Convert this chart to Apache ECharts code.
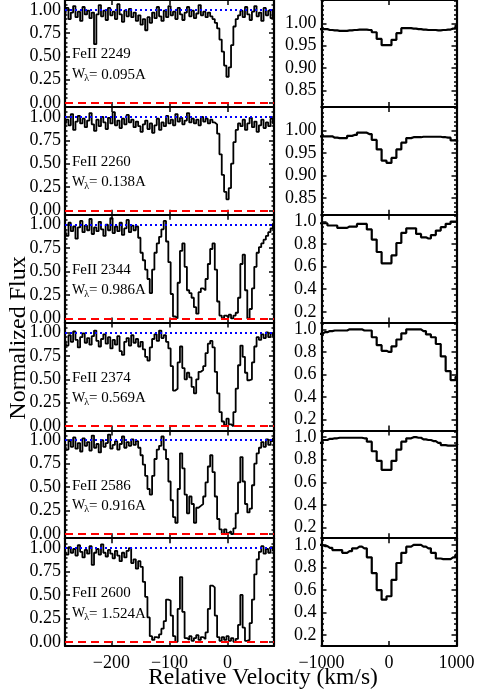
<!DOCTYPE html>
<html><head><meta charset="utf-8">
<script src="https://cdn.jsdelivr.net/npm/echarts@6/dist/echarts.min.js"></script>
<style>html,body{margin:0;padding:0;background:#fff}#c{width:485px;height:695px}</style>
</head><body><div id="c"></div>
<script>
// ---- data ----
const velocity = [-280,-276,-272,-268,-264,-260,-256,-252,-248,-244,-240,-236,-232,-228,-224,-220,-216,-212,-208,-204,-200,-196,-192,-188,-184,-180,-176,-172,-168,-164,-160,-156,-152,-148,-144,-140,-136,-132,-128,-124,-120,-116,-112,-108,-104,-100,-96,-92,-88,-84,-80,-76,-72,-68,-64,-60,-56,-52,-48,-44,-40,-36,-32,-28,-24,-20,-16,-12,-8,-4,0,4,8,12,16,20,24,28,32,36,40,44,48,52,56,60,64,68,72,76,80];

const fe2249 = [0.93,1.02,0.90,0.97,1.04,0.92,0.98,0.88,1.03,0.95,
0.99,0.91,0.97,0.63,0.95,1.05,0.93,0.99,0.89,1.02,
0.94,0.98,0.90,1.06,0.95,0.87,0.99,0.93,1.01,0.92,
0.97,0.88,0.94,0.84,0.90,0.78,0.92,0.86,0.97,0.91,
1.03,0.93,0.88,0.99,0.92,1.04,0.94,0.98,0.90,1.02,
0.95,0.89,0.97,1.03,0.93,0.99,0.91,0.96,1.05,0.94,
0.98,0.92,0.97,0.93,0.90,0.86,0.80,0.68,0.55,0.40,
0.28,0.38,0.62,0.82,0.90,0.94,0.99,0.92,1.03,0.95,
0.89,0.98,1.04,0.93,0.97,0.88,1.02,0.94,0.99,0.91,1.00];

const fe2260 = [0.88,0.97,0.91,1.03,0.86,0.95,1.01,0.93,0.98,0.89,
0.96,1.04,0.92,0.85,0.97,0.90,1.00,0.94,0.87,0.99,
0.93,1.05,0.91,0.96,0.88,0.98,0.92,1.02,0.94,0.97,
0.89,0.95,0.90,0.84,0.92,0.96,0.87,0.93,0.83,0.91,
0.98,0.86,0.94,0.90,1.01,0.93,0.97,0.91,1.03,0.95,
0.99,0.92,0.96,1.04,0.94,0.98,0.93,0.97,0.91,1.00,
0.95,0.98,0.93,0.97,0.94,0.92,0.82,0.60,0.38,0.20,
0.12,0.24,0.50,0.73,0.86,0.93,0.90,0.97,0.86,0.93,
0.99,0.89,0.95,0.84,0.91,0.97,0.88,0.94,0.90,0.98,0.93];

const fe2344 = [0.96,0.88,1.02,0.93,0.98,0.85,0.97,1.04,0.92,0.99,
0.94,1.06,0.90,0.97,0.93,1.03,0.95,0.88,1.00,0.94,
1.07,0.91,0.98,0.93,1.02,0.89,0.96,1.05,0.92,0.99,
0.94,0.98,0.86,0.70,0.62,0.52,0.42,0.27,0.52,0.70,
0.80,0.87,0.95,1.04,0.82,0.60,0.26,0.02,0.00,0.38,
0.72,0.80,0.55,0.30,0.27,0.22,0.12,0.05,0.28,0.32,
0.30,0.42,0.58,0.74,0.80,0.52,0.18,0.03,0.00,0.03,
0.01,0.04,0.00,0.03,0.06,0.22,0.58,0.68,0.30,0.00,
0.10,0.32,0.55,0.70,0.76,0.80,0.84,0.88,0.92,0.96,1.01];

const fe2374 = [0.93,0.86,0.97,0.90,1.01,0.92,0.84,0.95,0.99,0.89,
0.94,0.87,0.96,1.02,0.91,0.85,0.93,0.98,0.88,0.95,
0.83,0.92,0.87,0.96,0.80,0.76,0.90,0.94,0.86,0.97,
0.89,0.93,0.85,0.90,0.82,0.74,0.70,0.84,0.93,0.98,
0.91,1.02,0.94,0.97,0.90,0.83,0.64,0.38,0.40,0.68,
0.85,0.62,0.50,0.57,0.52,0.42,0.35,0.50,0.58,0.60,
0.64,0.78,0.88,0.91,0.84,0.58,0.35,0.15,0.05,0.01,
0.08,0.02,0.00,0.15,0.40,0.65,0.86,0.74,0.57,0.49,
0.50,0.68,0.85,0.95,0.92,0.98,0.94,1.00,0.95,0.99,0.96];

const fe2586 = [0.95,0.90,0.99,0.93,1.03,0.91,0.97,0.88,1.02,0.94,
0.98,0.89,1.05,0.92,0.96,0.87,1.00,0.93,0.97,1.06,
0.91,0.95,0.99,0.90,0.96,1.04,0.92,0.98,0.94,1.01,
0.95,0.99,0.92,0.84,0.74,0.62,0.48,0.42,0.62,0.80,
0.90,0.94,1.04,0.90,0.80,0.56,0.36,0.18,0.12,0.48,
0.86,0.70,0.42,0.22,0.40,0.32,0.12,0.28,0.30,0.32,
0.40,0.55,0.72,0.84,0.66,0.40,0.16,0.05,0.00,0.05,
0.01,0.03,0.00,0.06,0.22,0.55,0.82,0.56,0.32,0.23,
0.27,0.52,0.75,0.86,0.92,0.98,0.93,1.01,0.95,0.99,1.02];

const fe2600 = [0.97,0.93,1.01,0.95,0.99,0.92,1.03,0.96,0.90,0.98,
0.94,1.02,0.82,0.95,0.99,0.93,1.04,0.95,0.91,0.98,
0.94,0.89,0.97,0.92,0.86,0.95,0.90,0.97,1.00,0.84,
0.88,0.78,0.86,0.80,0.64,0.48,0.26,0.06,0.02,0.05,
0.04,0.08,0.14,0.22,0.45,0.44,0.28,0.06,0.00,0.35,
0.69,0.32,0.04,0.02,0.06,0.01,0.04,0.07,0.02,0.05,
0.03,0.10,0.35,0.60,0.58,0.28,0.05,0.01,0.05,0.02,
0.06,0.01,0.04,0.00,0.03,0.18,0.50,0.15,0.01,0.02,
0.20,0.45,0.72,0.88,0.96,1.02,0.94,0.99,0.95,1.01,0.97];

const binVelocity = [-1022,-949,-876,-803,-730,-657,-584,-511,-438,-365,-292,-219,-146,-73,0,73,146,219,292,365,438,511,584,657,730,803,876,949,1022];

const bin2249 = [0.987,0.987,0.985,0.984,0.983,0.983,0.984,0.985,0.986,0.986,0.985,0.980,0.965,0.951,0.951,0.963,0.978,0.989,0.989,0.988,0.987,0.986,0.985,0.985,0.984,0.985,0.986,0.988,0.995];
const bin2260 = [0.987,0.987,0.987,0.984,0.983,0.983,0.988,0.990,0.995,0.995,0.992,0.979,0.958,0.933,0.928,0.939,0.958,0.973,0.983,0.985,0.985,0.986,0.986,0.986,0.986,0.985,0.984,0.978,0.975];
const bin2344 = [0.985,0.985,0.965,0.965,0.944,0.944,0.956,0.956,0.979,0.979,0.930,0.84,0.73,0.63,0.63,0.70,0.81,0.90,0.94,0.94,0.89,0.86,0.85,0.88,0.92,0.95,0.98,1.00,1.00];
const bin2374 = [0.96,0.975,0.985,0.99,0.99,0.99,1.0,1.0,1.0,0.99,0.99,0.93,0.86,0.81,0.80,0.85,0.91,0.965,1.0,1.0,1.0,0.985,0.955,0.93,0.87,0.76,0.63,0.55,0.58];
const bin2586 = [0.95,0.975,0.985,0.99,0.995,0.995,0.995,0.995,0.995,0.99,0.96,0.875,0.79,0.71,0.71,0.79,0.89,0.96,0.99,1.0,0.995,0.98,0.975,0.965,0.95,0.93,0.925,0.925,0.94];
const bin2600 = [1.0,0.99,0.975,0.955,0.955,0.93,0.945,0.97,0.985,0.97,0.89,0.75,0.60,0.515,0.545,0.69,0.84,0.93,0.985,1.0,1.0,0.985,0.97,0.93,0.88,0.875,0.875,0.89,0.915];

const lineNames = ['FeII 2249','FeII 2260','FeII 2344','FeII 2374','FeII 2586','FeII 2600'];
const eqWidths = ['0.095A','0.138A','0.986A','0.569A','0.916A','1.524A'];

const fluxTicks = [0, 0.25, 0.5, 0.75, 1.0];
const fluxMinorTicks = [0.05,0.10,0.15,0.20,0.30,0.35,0.40,0.45,0.55,0.60,0.65,0.70,0.80,0.85,0.90,0.95,1.05];
const velTicks = [-200, -100, 0];
const binTicksFine = [0.85, 0.90, 0.95, 1.00];
const binMinorFine = [0.82,0.83,0.84,0.86,0.87,0.88,0.89,0.91,0.92,0.93,0.94,0.96,0.97,0.98,0.99,1.01,1.02,1.03,1.04,1.05];
const binTicksCoarse = [0.2, 0.4, 0.6, 0.8, 1.0];
const binMinorCoarse = [0.15,0.25,0.30,0.35,0.45,0.50,0.55,0.65,0.70,0.75,0.85,0.90,0.95,1.05];
const binVelTicks = [-1000, 0, 1000];
const continuumLevel = 1;
const zeroLevel = 0;

// ---- chart ----
const leftSpectra = [fe2249, fe2260, fe2344, fe2374, fe2586, fe2600];
const rightSpectra = [bin2249, bin2260, bin2344, bin2374, bin2586, bin2600];
const FONT = 'Liberation Serif';
const ROW_TOP = -0.8, ROW_H = 107.8;
const grids = [], xAxes = [], yAxes = [], series = [], graphics = [];
const minus = v => (v < 0 ? '\u2212' : '') + Math.abs(v);

function addPanel(g, row, col) {
  const isLeft = col === 0;
  const top = ROW_TOP + row * ROW_H;
  grids.push({left: isLeft ? 65 : 321.5, top: top, width: isLeft ? 209 : 135, height: ROW_H});
  const xr = isLeft ? [-280, 80] : [-1000, 1000];
  const yr = isLeft ? [-0.045, 1.105] : (row < 2 ? [0.813, 1.052] : [0.104, 1.06]);
  const xt = isLeft ? velTicks : binVelTicks;
  const yt = isLeft ? fluxTicks : (row < 2 ? binTicksFine : binTicksCoarse);
  const ym = isLeft ? fluxMinorTicks : (row < 2 ? binMinorFine : binMinorCoarse);
  const dec = (isLeft || row < 2) ? 2 : 1;
  const line = {show: true, onZero: false, lineStyle: {color: '#000', width: 2.2}};
  const noLine = {show: false, onZero: false};
  const lab = {fontFamily: FONT, fontSize: 18, color: '#000'};
  const tk = (vals, len) => ({show: true, inside: true, length: len, customValues: vals, lineStyle: {color: '#000', width: 1.5}});
  const base = (dim, pos) => ({type: 'value', gridIndex: g, position: pos,
    min: dim === 'x' ? xr[0] : yr[0], max: dim === 'x' ? xr[1] : yr[1],
    splitLine: {show: false}, axisPointer: {show: false}});
  xAxes.push(Object.assign(base('x', 'bottom'), {axisLine: line, axisTick: tk(xt, 5),
    axisLabel: Object.assign({show: row === 5, customValues: xt, formatter: minus, margin: 8}, lab)}));
  xAxes.push(Object.assign(base('x', 'top'), {axisLine: line, axisTick: tk(xt, 5), axisLabel: {show: false}}));
  yAxes.push(Object.assign(base('y', 'left'), {axisLine: line, axisTick: tk(yt, 5),
    axisLabel: Object.assign({show: true, customValues: yt, formatter: v => v.toFixed(dec), margin: isLeft ? 4 : 5}, lab)}));
  yAxes.push(Object.assign(base('y', 'left'), {axisLine: noLine, axisTick: tk(ym, 2.5), axisLabel: {show: false}}));
  yAxes.push(Object.assign(base('y', 'right'), {axisLine: line, axisTick: tk(yt, 5), axisLabel: {show: false}}));
  yAxes.push(Object.assign(base('y', 'right'), {axisLine: noLine, axisTick: tk(ym, 2.5), axisLabel: {show: false}}));

  const xs = isLeft ? velocity : binVelocity;
  const ys = isLeft ? leftSpectra[row] : rightSpectra[row];
  const s = {type: 'line', xAxisIndex: 2 * g, yAxisIndex: 4 * g, data: xs.map((v, j) => [v, ys[j]]),
    step: 'middle', symbol: 'none', clip: true, silent: true,
    lineStyle: {color: '#000', width: isLeft ? 1.8 : 2.2}};
  if (isLeft) {
    s.markLine = {silent: true, symbol: ['none', 'none'], label: {show: false}, animation: false,
      data: [
        {yAxis: continuumLevel, lineStyle: {color: '#0000ff', type: [2, 3], width: 2}},
        {yAxis: zeroLevel, lineStyle: {color: '#ff0000', type: [8, 5], width: 2}}
      ]};
    graphics.push({type: 'text', x: 72, y: top + 55.2, style: {text: lineNames[row], font: '15px "Liberation Serif"', fill: '#000', align: 'left', verticalAlign: 'middle'}});
    graphics.push({type: 'text', x: 72, y: top + 75.4, style: {text: 'W', font: '14px "Liberation Serif"', fill: '#000', align: 'left', verticalAlign: 'middle'}});
    graphics.push({type: 'text', x: 84.3, y: top + 79.4, style: {text: '\u03bb', font: '10px "Liberation Serif"', fill: '#000', align: 'left', verticalAlign: 'middle'}});
    graphics.push({type: 'text', x: 89, y: top + 75.4, style: {text: '= ' + eqWidths[row], font: '15px "Liberation Serif"', fill: '#000', align: 'left', verticalAlign: 'middle'}});
  }
  series.push(s);
}

let g = 0;
for (let row = 0; row < 6; row++) {
  addPanel(g++, row, 0);
  addPanel(g++, row, 1);
}

graphics.push({type: 'text', x: 18.6, y: 338, rotation: Math.PI / 2, style: {text: 'Normalized Flux', font: '24px "Liberation Serif"', fill: '#000', align: 'center', verticalAlign: 'middle'}});
graphics.push({type: 'text', x: 263, y: 678, style: {text: 'Relative Velocity (km/s)', font: '23.5px "Liberation Serif"', fill: '#000', align: 'center', verticalAlign: 'middle'}});

const chart = echarts.init(document.getElementById('c'), null, {renderer: 'canvas'});
chart.setOption({
  animation: false,
  backgroundColor: '#fff',
  grid: grids, xAxis: xAxes, yAxis: yAxes, series: series,
  graphic: graphics
});
</script>
</body></html>
